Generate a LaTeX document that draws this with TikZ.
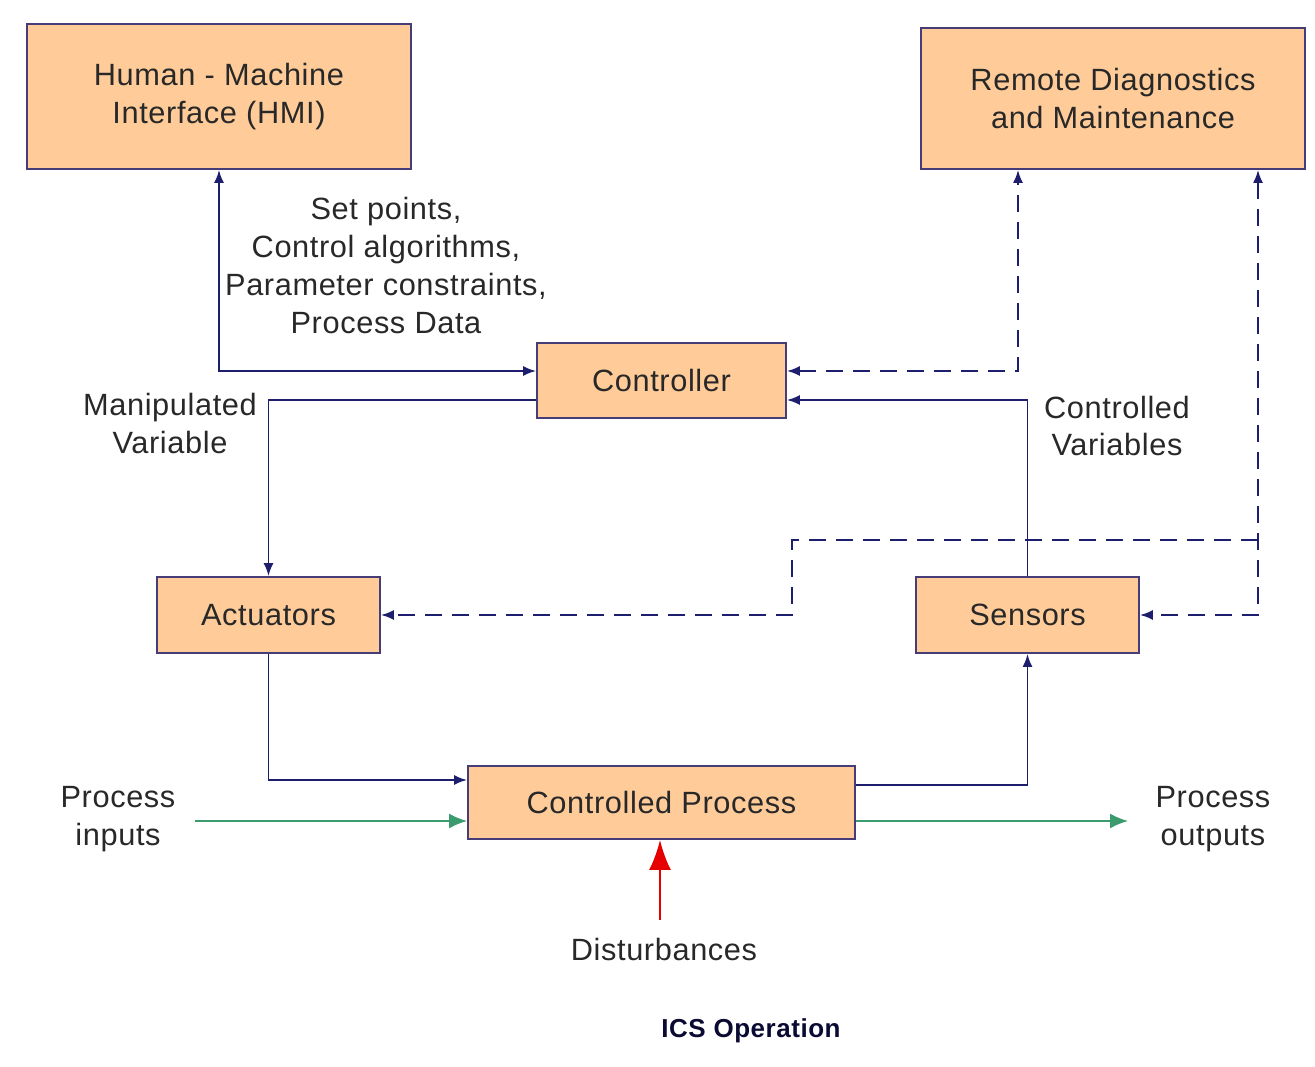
\documentclass[tikz,border=0pt]{standalone}
\usepackage{fontspec}
\setmainfont{Liberation Sans}[LetterSpace=2]
\usetikzlibrary{arrows.meta,calc}
\definecolor{boxfill}{RGB}{255,204,153}
\definecolor{boxline}{RGB}{70,60,120}
\definecolor{navy}{RGB}{30,30,110}
\definecolor{txt}{RGB}{40,40,40}
\definecolor{flow}{RGB}{60,155,110}
\definecolor{dist}{RGB}{230,0,0}
\definecolor{title}{RGB}{10,10,50}

\begin{document}
\begin{tikzpicture}[x=0.2mm,y=-0.2mm,
  every node/.style={font=\fontsize{17.5}{21.6}\selectfont},
  box/.style={draw=boxline,fill=boxfill,line width=1.1pt,inner sep=0pt,text=txt,align=center},
  lbl/.style={text=txt,align=center},
  link/.style={draw=navy,line width=1pt},
  remote/.style={link,dash pattern=on 3.4mm off 2mm},
  tip/.style={-{Latex[length=2.6mm,width=2mm]}},
  tips/.style={{Latex[length=2.6mm,width=2mm]}-{Latex[length=2.6mm,width=2mm]}}]
  \useasboundingbox (0,0) rectangle (1315,1067);
  % blocks:
  \node[box,minimum width=76.8mm,minimum height=29mm] (hmi) at (219,96.5) {Human - Machine\\Interface (HMI)};
  \node[box,minimum width=76.8mm,minimum height=28.2mm] (rdm) at (1113,98.5) {Remote Diagnostics\\and Maintenance};
  \node[box,minimum width=49.8mm,minimum height=15mm] (ctrl) at (661.5,380.5) {Controller};
  \node[box,minimum width=44.6mm,minimum height=15.2mm] (act) at (268.5,615) {Actuators};
  \node[box,minimum width=44.6mm,minimum height=15.2mm] (sens) at (1027.5,615) {Sensors};
  \node[box,minimum width=77.4mm,minimum height=14.6mm] (proc) at (661.5,802.5) {Controlled Process};
  % labels:
  \node[lbl] (setpts) at (386,265.5) {Set points,\\Control algorithms,\\Parameter constraints,\\Process Data};
  \node[lbl] (manvar) at (170,423.5) {Manipulated\\Variable};
  \node[lbl] (ctlvar) at (1117,426) {Controlled\\Variables};
  \node[lbl] (pin) at (118,819) {Process\\inputs};
  \node[lbl] (pout) at (1213,819) {Process\\outputs};
  \node[lbl] (distlbl) at (664,950) {Disturbances};
  \node[text=title,font=\fontsize{14.8}{18}\selectfont\bfseries] (cap) at (751,1031) {ICS Operation};
  % free ends:
  \coordinate (inp) at (195,821);
  \coordinate (outp) at (1128,821);
  \coordinate (dsrc) at (660,920);
  \coordinate (split) at (1258,540);
  \coordinate (jog) at (792,540);
  % HMI and controller:
  \draw[link,tips] (hmi.south) |- ($(ctrl.west)+(0,-9.5)$);
  % manipulated variable:
  \draw[link,tip] ($(ctrl.west)+(0,19.5)$) -| (act.north);
  % controlled variables:
  \draw[link,tip] (sens.north) |- ($(ctrl.east)+(0,19.5)$);
  % remote link to controller:
  \draw[remote,tips] ($(ctrl.east)+(0,-9.5)$) -| ($(rdm.south)+(-95,0)$);
  % remote link to sensors and actuators:
  \draw[remote,tips] ($(rdm.south)+(145,0)$) |- (sens.east);
  \draw[remote,tip] (split) -- (jog) |- (act.east);
  % actuators to process, process to sensors:
  \draw[link,tip] (act.south) |- ($(proc.west)+(0,-22.5)$);
  \draw[link,tip] ($(proc.east)+(0,-17.5)$) -| (sens.south);
  % process inputs and outputs:
  \draw[flow,line width=1pt,-{Latex[length=3.6mm,width=3mm]}] (inp) -- (inp -| proc.west);
  \draw[flow,line width=1pt,-{Latex[length=3.6mm,width=3mm]}] (outp -| proc.east) -- (outp);
  % disturbances:
  \draw[dist,line width=1.2pt,-{Latex[length=6mm,width=4.4mm]}] (dsrc) -- (dsrc |- proc.south);
\end{tikzpicture}
\end{document}
